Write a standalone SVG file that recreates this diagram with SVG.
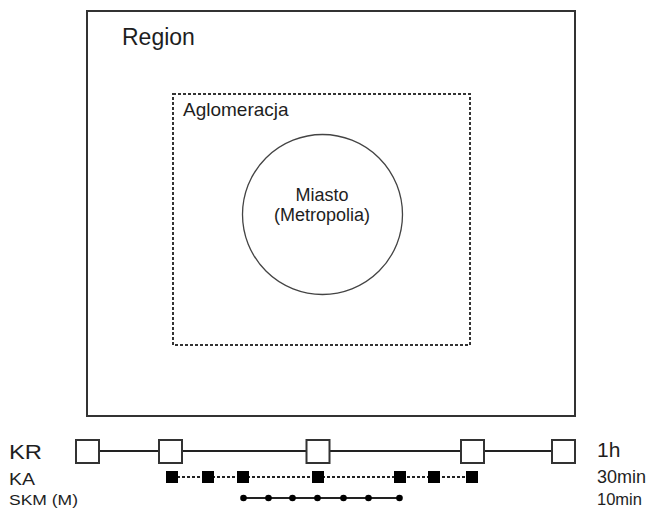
<svg xmlns="http://www.w3.org/2000/svg" width="653" height="508" viewBox="0 0 653 508">
<style>
text{font-family:"Liberation Sans",Arial,sans-serif;fill:#1e1e1e}
.kr{fill:#fff;stroke:#333;stroke-width:2}
.ka{fill:#000}
.skm{fill:#000}
</style>
<rect width="653" height="508" fill="#fff"/>
<g id="region">
<rect x="87" y="11" width="488" height="405" fill="none" stroke="#333" stroke-width="2"/>
<text x="122" y="45" font-size="23">Region</text>
</g>
<g id="aglomeracja">
<rect x="173" y="94" width="297" height="251" fill="none" stroke="#333" stroke-width="2" stroke-dasharray="3,2"/>
<text x="183" y="116" font-size="19">Aglomeracja</text>
</g>
<g id="miasto">
<circle cx="322.5" cy="214.5" r="80" fill="none" stroke="#444" stroke-width="1.3"/>
<text x="322" y="201" font-size="18" text-anchor="middle">Miasto</text>
<text x="322" y="221" font-size="18" text-anchor="middle">(Metropolia)</text>
</g>
<g id="connectors">
<line x1="87" y1="451" x2="563" y2="451" stroke="#222" stroke-width="1.8"/>
<line x1="172" y1="477" x2="472" y2="477" stroke="#222" stroke-width="1.8" stroke-dasharray="3,2"/>
<line x1="243" y1="498" x2="400" y2="498" stroke="#222" stroke-width="1.8"/>
</g>
<g id="kr">
<rect class="kr" x="76" y="440" width="23" height="23"/>
<rect class="kr" x="159" y="440" width="23" height="23"/>
<rect class="kr" x="306.5" y="440" width="23" height="23"/>
<rect class="kr" x="461" y="440" width="23" height="23"/>
<rect class="kr" x="552" y="440" width="23" height="23"/>
</g>
<g id="ka">
<rect class="ka" x="166" y="471" width="12" height="12"/>
<rect class="ka" x="202" y="471" width="12" height="12"/>
<rect class="ka" x="237" y="471" width="12" height="12"/>
<rect class="ka" x="312" y="471" width="12" height="12"/>
<rect class="ka" x="394" y="471" width="12" height="12"/>
<rect class="ka" x="428" y="471" width="12" height="12"/>
<rect class="ka" x="466" y="471" width="12" height="12"/>
</g>
<g id="skm">
<circle class="skm" cx="243.5" cy="498" r="3.3"/>
<circle class="skm" cx="268.5" cy="498" r="3.3"/>
<circle class="skm" cx="292.5" cy="498" r="3.3"/>
<circle class="skm" cx="317.5" cy="498" r="3.3"/>
<circle class="skm" cx="343.5" cy="498" r="3.3"/>
<circle class="skm" cx="368.5" cy="498" r="3.3"/>
<circle class="skm" cx="399.5" cy="498" r="3.3"/>
</g>
<g id="labels">
<text x="9" y="459" font-size="20.5" textLength="33" lengthAdjust="spacingAndGlyphs">KR</text>
<text x="9" y="485" font-size="16.5" textLength="26" lengthAdjust="spacingAndGlyphs">KA</text>
<text x="9" y="505" font-size="14.5" textLength="69" lengthAdjust="spacingAndGlyphs">SKM (M)</text>
<text x="597" y="457" font-size="21">1h</text>
<text x="597" y="483" font-size="18">30min</text>
<text x="597" y="505" font-size="16.5">10min</text>
</g>
</svg>
